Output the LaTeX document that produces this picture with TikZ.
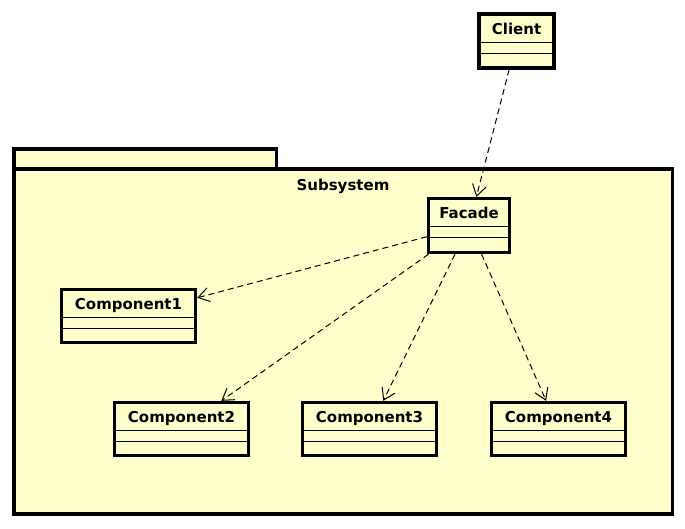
\documentclass[tikz,border=0pt]{standalone}
\usepackage{fontspec}
\setmainfont{DejaVu Sans}
\usetikzlibrary{arrows.meta}
\definecolor{umlyellow}{HTML}{FFFFCC}
\begin{document}
\begin{tikzpicture}[x=1pt,y=-1pt,
  classbox/.style={draw,fill=umlyellow,line width=3.3pt,inner sep=0pt,minimum width=134pt,minimum height=53pt},
  classname/.style={anchor=base,inner sep=0pt,font=\bfseries\fontsize{15}{17}\selectfont},
  depend/.style={-{Straight Barb[length=11pt,width=14pt]},line width=1pt,dash pattern=on 6pt off 4pt}]
\useasboundingbox (0,0) rectangle (685,528);
% package
\draw[fill=umlyellow,line width=3.3pt](14,149) rectangle (276.5,169);
\draw[fill=umlyellow,line width=3.3pt](14,169) rectangle (672.5,514);
\node[classname] (subsystem) at (343,190.5) {Subsystem};
% classes
\node[classbox,minimum width=75pt,minimum height=54pt] (client) at (516.5,41) {};
\node[classbox,minimum width=81pt,minimum height=54pt] (facade) at (469,225.5) {};
\node[classbox] (comp1) at (128.5,316) {};
\node[classbox] (comp2) at (181.5,429) {};
\node[classbox] (comp3) at (369.5,429) {};
\node[classbox] (comp4) at (558.5,429) {};
\foreach \c/\ctext in {client/Client,facade/Facade,comp1/Component1,comp2/Component2,comp3/Component3,comp4/Component4}{
  \node[classname] (\c-name) at ([yshift=-22pt]\c.north) {\ctext};
  \draw[line width=0.8pt] ([yshift=-30pt]\c.north west) -- ([yshift=-30pt]\c.north east);
  \draw[line width=0.8pt] ([yshift=-41pt]\c.north west) -- ([yshift=-41pt]\c.north east);
}
% dependencies
\draw[depend] (client) -- (facade);
\foreach \c in {comp1,comp2,comp3,comp4}
  \draw[depend] (facade) -- (\c);
\end{tikzpicture}
\end{document}
